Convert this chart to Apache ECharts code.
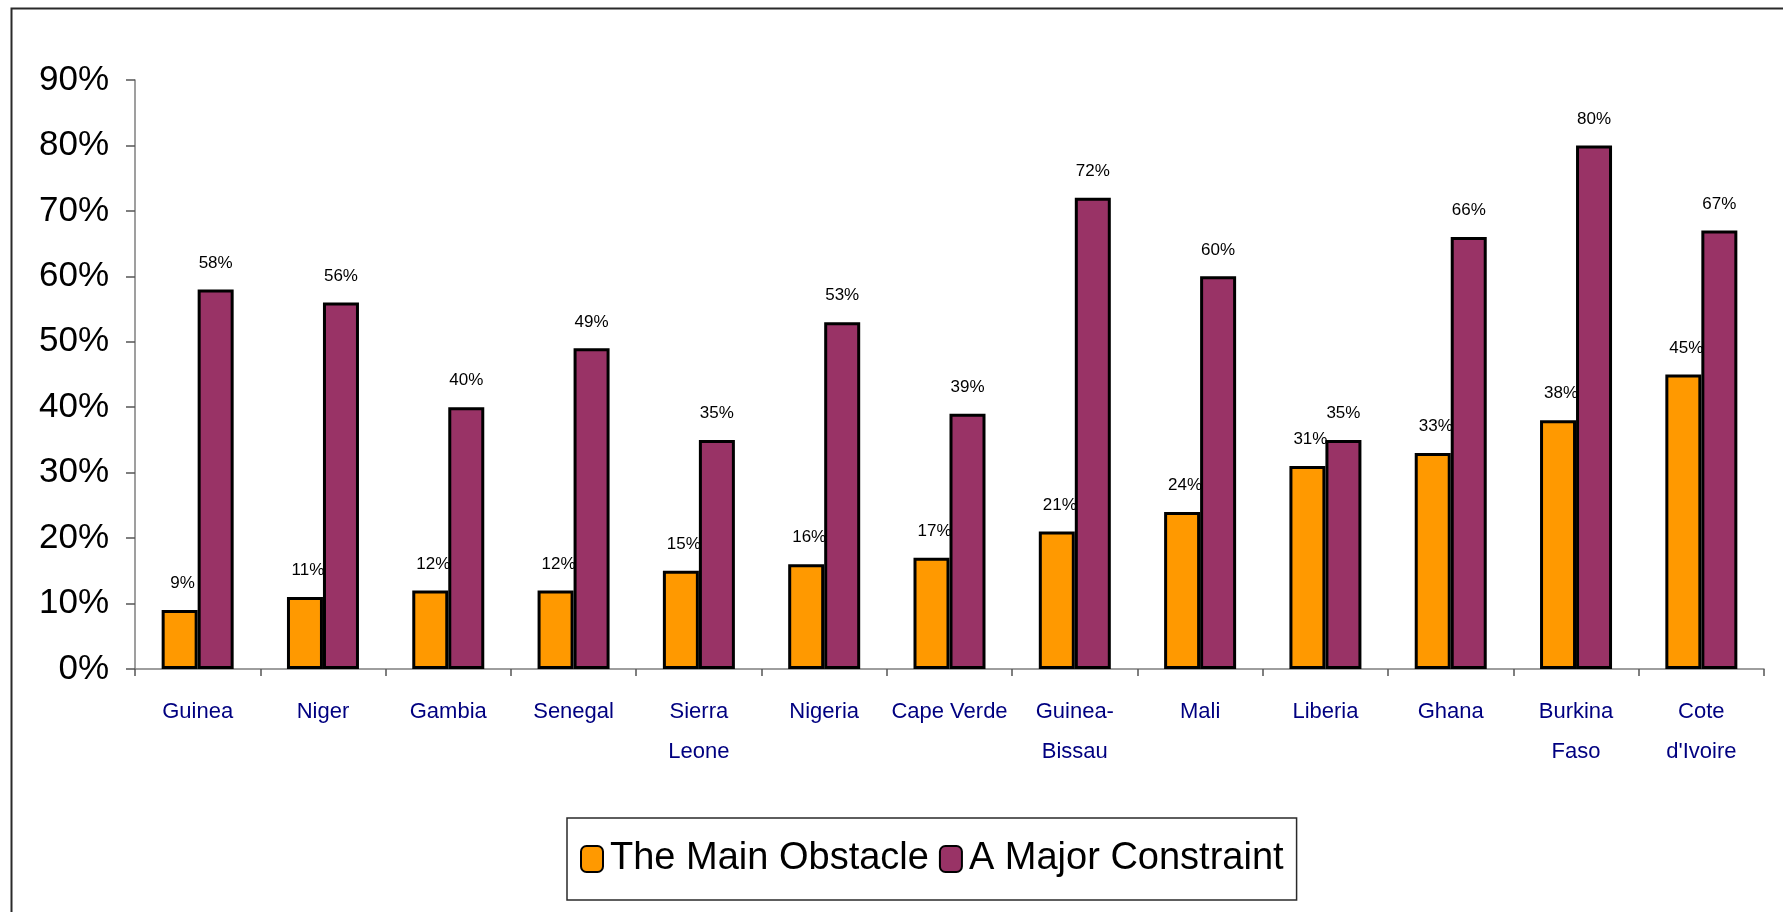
<!DOCTYPE html>
<html>
<head>
<meta charset="utf-8">
<title>The Main Obstacle vs A Major Constraint</title>
<script src="https://cdn.jsdelivr.net/npm/echarts@6/dist/echarts.min.js"></script>
<style>
  html, body { margin: 0; padding: 0; background: #ffffff; }
  #chart { width: 1783px; height: 912px; }
</style>
</head>
<body>
<div id="chart"></div>
<script>
// Countries along the x axis (line breaks as shown under each group)
const countries = [
  'Guinea', 'Niger', 'Gambia', 'Senegal', 'Sierra\nLeone', 'Nigeria',
  'Cape Verde', 'Guinea-\nBissau', 'Mali', 'Liberia', 'Ghana',
  'Burkina\nFaso', "Cote\nd'Ivoire"
];

// Share of firms (%) naming the issue as the main obstacle
const mainObstacle = [9, 11, 12, 12, 15, 16, 17, 21, 24, 31, 33, 38, 45];

// Share of firms (%) naming the issue as a major constraint
const majorConstraint = [58, 56, 40, 49, 35, 53, 39, 72, 60, 35, 66, 80, 67];

// Y axis range and step, in percent
const yMin = 0;
const yMax = 90;
const yStep = 10;

const seriesNames = ['The Main Obstacle', 'A Major Constraint'];

const FONT = "'Liberation Sans Narrow', 'Arial Narrow', 'Liberation Sans', Arial, sans-serif";

const chart = echarts.init(document.getElementById('chart'), null, { renderer: 'canvas' });

const barLabel = {
  show: true,
  position: 'top',
  distance: 18,
  formatter: '{c}%',
  color: '#000000',
  fontFamily: FONT,
  fontSize: 17
};

chart.setOption({
  backgroundColor: '#ffffff',
  animation: false,
  graphic: [{
    type: 'rect',
    left: 9,
    top: 6,
    shape: { width: 1820, height: 1000 },
    style: { fill: 'none', stroke: '#2a2a2a', lineWidth: 2 },
    silent: true,
    z: 0
  }],
  grid: {
    left: 135,
    right: 19,
    top: 80,
    bottom: 243,
    containLabel: false
  },
  legend: {
    left: 567,
    top: 818,
    data: seriesNames,
    orient: 'horizontal',
    borderColor: '#2a2a2a',
    borderWidth: 1.5,
    padding: [22, 13, 22, 13],
    itemWidth: 22,
    itemHeight: 26,
    itemGap: 10,
    selectedMode: false,
    itemStyle: { borderColor: '#000000', borderWidth: 2 },
    textStyle: {
      fontFamily: FONT,
      fontSize: 38,
      color: '#000000',
      padding: [0, 0, 0, 2]
    }
  },
  xAxis: {
    type: 'category',
    data: countries,
    boundaryGap: true,
    axisLine: { show: true, lineStyle: { color: '#7f7f7f', width: 1.5 } },
    axisTick: { show: true, length: 7, inside: false, lineStyle: { color: '#555555', width: 1.5 } },
    axisLabel: {
      interval: 0,
      margin: 23,
      color: '#000080',
      fontFamily: FONT,
      fontSize: 22,
      lineHeight: 40,
      align: 'center'
    },
    splitLine: { show: false }
  },
  yAxis: {
    type: 'value',
    min: yMin,
    max: yMax,
    interval: yStep,
    axisLine: { show: true, lineStyle: { color: '#7f7f7f', width: 1.5 } },
    axisTick: { show: true, length: 9, lineStyle: { color: '#555555', width: 1.5 } },
    axisLabel: {
      formatter: '{value}%',
      margin: 26,
      color: '#000000',
      fontFamily: FONT,
      fontSize: 35
    },
    splitLine: { show: false }
  },
  series: [
    {
      name: seriesNames[0],
      type: 'bar',
      data: mainObstacle,
      barWidth: 36,
      barGap: '0%',
      itemStyle: { color: '#FF9900', borderColor: '#000000', borderWidth: 3 },
      label: Object.assign({}, barLabel, { offset: [3, 0] })
    },
    {
      name: seriesNames[1],
      type: 'bar',
      data: majorConstraint,
      barWidth: 36,
      barGap: '0%',
      itemStyle: { color: '#993366', borderColor: '#000000', borderWidth: 3 },
      label: barLabel
    }
  ]
});
</script>
</body>
</html>
